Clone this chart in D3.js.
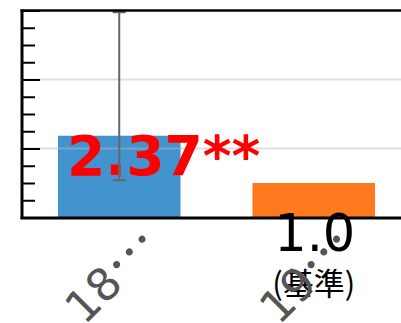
<!DOCTYPE html>
<html>
<head>
<meta charset="utf-8">
<script src="https://cdn.jsdelivr.net/npm/d3@7"></script>
<style>
  html, body { margin: 0; padding: 0; background: #fff; overflow: hidden; }
  svg { display: block; }
</style>
</head>
<body>
<script>
// Odds ratio by group, with the reference group shown as 1.0
const categories = ["18…", "19…"];
const values = [2.37, 1.0];
const errLow = [1.08, null];
const errHigh = [5.95, null];
const valueLabels = ["2.37**", "1.0"];
const subLabels = ["", "(基準)"];
const barColors = ["#4393cf", "#ff7a1e"];
const yMajorTicks = [0, 2, 4, 6];
const yMinorTicks = [0.5, 1, 1.5, 2.5, 3, 3.5, 4.5, 5, 5.5];

const W = 401, H = 323;
const plotLeft = 22, plotTop = 10.5, plotBottom = 217.5, plotRightEnd = 411;

const svg = d3.select("body").append("svg")
  .attr("width", W).attr("height", H);

const x = d3.scaleBand()
  .domain(categories)
  .range([plotLeft, plotRightEnd])
  .paddingInner(0.37)
  .paddingOuter(0.185);

const y = d3.scaleLinear().domain([0, 6]).range([plotBottom, plotTop]);

// bars
svg.append("g").selectAll("rect")
  .data(values)
  .join("rect")
  .attr("x", (d, i) => x(categories[i]))
  .attr("width", x.bandwidth())
  .attr("y", d => y(d))
  .attr("height", d => y(0) - y(d))
  .attr("fill", (d, i) => barColors[i]);

// horizontal grid at the major ticks
svg.append("g").selectAll("line")
  .data(yMajorTicks.filter(v => v > 0 && v < 6))
  .join("line")
  .attr("x1", plotLeft).attr("x2", W)
  .attr("y1", d => y(d)).attr("y2", d => y(d))
  .attr("stroke", "#b8b8b8")
  .attr("stroke-opacity", 0.45)
  .attr("stroke-width", 2);

// value labels
const cx = (i) => x(categories[i]) + x.bandwidth() / 2;

svg.append("text")
  .attr("x", x(categories[0]) + 9)
  .attr("y", y(values[0]) + 39)
  .attr("font-family", "DejaVu Sans")
  .attr("font-weight", "bold")
  .attr("font-size", 55)
  .attr("fill", "#ff0000")
  .text(valueLabels[0]);

svg.append("text")
  .attr("x", cx(1) + 1)
  .attr("y", 251)
  .attr("text-anchor", "middle")
  .attr("font-family", "DejaVu Sans")
  .attr("font-size", 51)
  .attr("fill", "#000")
  .text(valueLabels[1]);

svg.append("text")
  .attr("x", cx(1))
  .attr("y", 295)
  .attr("text-anchor", "middle")
  .attr("font-family", "'Noto Sans CJK JP', 'Noto Sans CJK SC', sans-serif")
  .attr("font-size", 31)
  .attr("fill", "#000")
  .text(subLabels[1]);

// error bars
const eb = svg.append("g").attr("stroke", "#666").attr("stroke-width", 2);
values.forEach((v, i) => {
  if (errLow[i] == null) return;
  const c = cx(i);
  eb.append("line").attr("x1", c).attr("x2", c)
    .attr("y1", y(errLow[i])).attr("y2", y(errHigh[i]));
  [errLow[i], errHigh[i]].forEach(e => {
    eb.append("line").attr("x1", c - 6.5).attr("x2", c + 6.5)
      .attr("y1", y(e)).attr("y2", y(e));
  });
});

// left axis with inward ticks
const minorAxis = d3.axisRight(y).tickValues(yMinorTicks).tickSize(13).tickFormat("");
const majorAxis = d3.axisRight(y).tickValues(yMajorTicks).tickSize(18).tickFormat("");
[minorAxis, majorAxis].forEach(ax => {
  const g = svg.append("g").attr("transform", `translate(${plotLeft},0)`).call(ax);
  g.select(".domain").remove();
  g.selectAll(".tick line").attr("stroke", "#000").attr("stroke-width", 2);
});

// frame: left, top, bottom
svg.append("line").attr("x1", plotLeft).attr("x2", plotLeft)
  .attr("y1", plotTop - 1).attr("y2", plotBottom + 1.5)
  .attr("stroke", "#000").attr("stroke-width", 3);
svg.append("line").attr("x1", plotLeft - 1.5).attr("x2", W)
  .attr("y1", plotTop).attr("y2", plotTop)
  .attr("stroke", "#000").attr("stroke-width", 2.5);
svg.append("line").attr("x1", plotLeft - 1.5).attr("x2", W)
  .attr("y1", plotBottom + 0.5).attr("y2", plotBottom + 0.5)
  .attr("stroke", "#000").attr("stroke-width", 3);

// rotated category labels; the truncation mark uses the Japanese font
const catLabels = svg.append("g").selectAll("text")
  .data(categories)
  .join("text")
  .attr("transform", (d, i) => `translate(${cx(i) - 35},326) rotate(-45)`)
  .attr("font-family", "DejaVu Sans")
  .attr("font-size", 45)
  .attr("fill", "#555");
catLabels.append("tspan").text(d => d.replace(/…$/, ""));
catLabels.append("tspan")
  .attr("font-family", "'Noto Sans CJK JP'")
  .attr("font-size", 54)
  .text(d => d.endsWith("…") ? "…" : "");
</script>
</body>
</html>
